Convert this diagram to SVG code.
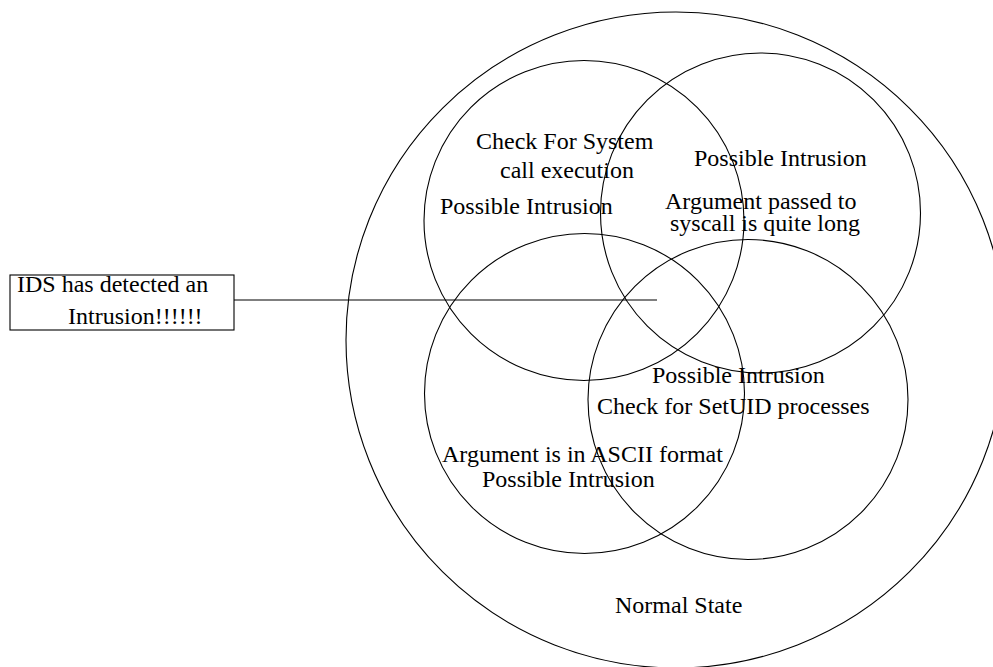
<svg xmlns="http://www.w3.org/2000/svg" width="993" height="667" viewBox="0 0 993 667">
<style>
.c{fill:none;stroke:#000;stroke-width:1.1}
.t{font-family:"Liberation Serif","Times New Roman",serif;font-size:24px;fill:#000}
</style>
<rect width="993" height="667" fill="#fff"/>
<g id="normal-state">
<ellipse class="c" cx="676" cy="340" rx="330" ry="328"/>
<text class="t" x="615" y="613">Normal State</text>
</g>
<g id="syscall-exec">
<circle class="c" cx="584" cy="220.5" r="160"/>
<text class="t" x="476" y="149">Check For System</text>
<text class="t" x="500" y="178">call execution</text>
<text class="t" x="440" y="214">Possible Intrusion</text>
</g>
<g id="arg-long">
<circle class="c" cx="760.5" cy="213" r="160"/>
<text class="t" x="694" y="166">Possible Intrusion</text>
<text class="t" x="665" y="209">Argument passed to</text>
<text class="t" x="670" y="231">syscall is quite long</text>
</g>
<g id="arg-ascii">
<circle class="c" cx="584.5" cy="393.5" r="160"/>
<text class="t" x="442" y="462">Argument is in ASCII format</text>
<text class="t" x="482" y="487">Possible Intrusion</text>
</g>
<g id="setuid">
<circle class="c" cx="748" cy="399.5" r="160"/>
<text class="t" x="652" y="383">Possible Intrusion</text>
<text class="t" x="597" y="414">Check for SetUID processes</text>
</g>
<g id="ids-alert">
<rect x="10" y="275" width="224" height="55" fill="#fff" stroke="#000" stroke-width="1.1"/>
<text class="t" x="17" y="292">IDS has detected an</text>
<text class="t" x="68" y="324">Intrusion!!!!!!</text>
</g>
<g id="connectors">
<line x1="234" y1="300" x2="657" y2="300" stroke="#000" stroke-width="1.1"/>
</g>
</svg>
